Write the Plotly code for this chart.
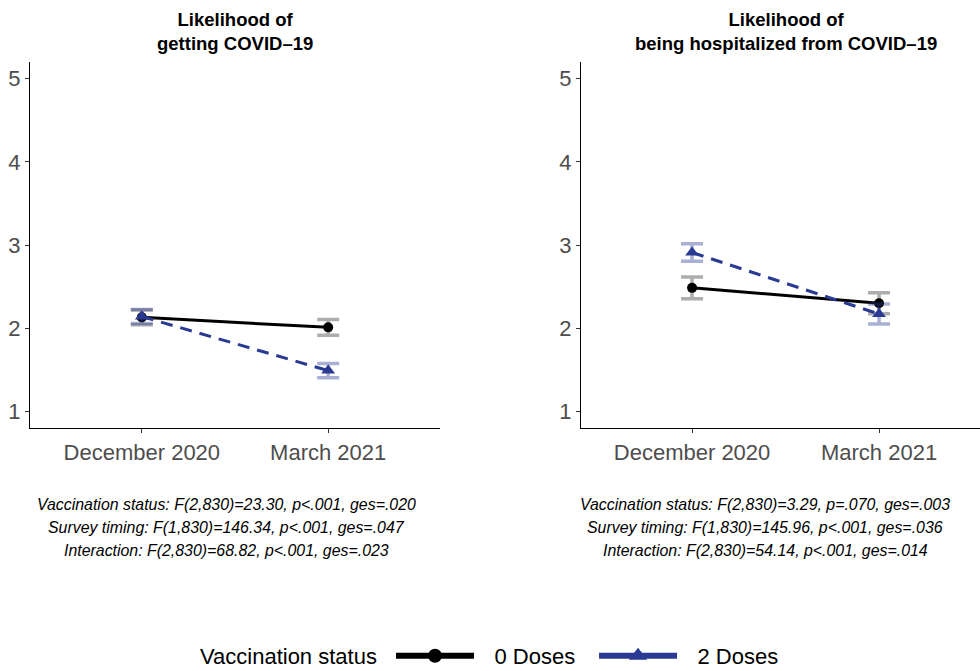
import plotly.graph_objects as go

# ---- data ----
timepoints = ["December 2020", "March 2021"]
panel_titles = ["Likelihood of<br>getting COVID\u201319",
                "Likelihood of<br>being hospitalized from COVID\u201319"]
series_names = ["0 Doses", "2 Doses"]

# panel 1: getting COVID-19
p1_zero = [2.13, 2.01]
p1_zero_err = [0.09, 0.095]
p1_two = [2.14, 1.49]
p1_two_err = [0.085, 0.086]

# panel 2: hospitalized
p2_zero = [2.485, 2.30]
p2_zero_err = [0.13, 0.125]
p2_two = [2.91, 2.17]
p2_two_err = [0.105, 0.12]

y_ticks = [1, 2, 3, 4, 5]

stats_left = [
    "Vaccination status: F(2,830)=23.30, p<.001, ges=.020",
    "Survey timing: F(1,830)=146.34, p<.001, ges=.047",
    "Interaction: F(2,830)=68.82, p<.001, ges=.023",
]
stats_right = [
    "Vaccination status: F(2,830)=3.29, p=.070, ges=.003",
    "Survey timing: F(1,830)=145.96, p<.001, ges=.036",
    "Interaction: F(2,830)=54.14, p<.001, ges=.014",
]

# ---- styling ----
W, H = 980, 671
BLACK = "#000000"
BLUE = "#2A3A93"
ERR_BLACK = "rgba(0,0,0,0.32)"
ERR_BLUE = "rgba(42,58,147,0.40)"
FONT = "Liberation Sans, Arial, Helvetica, sans-serif"
LEGEND_PAD = "\u2002\u2009"

x_num = [1, 2]

fig = go.Figure()

def add_pair(zero, zero_err, two, two_err, xa, ya):
    fig.add_trace(go.Scatter(
        x=x_num, y=zero, mode="lines+markers", name=series_names[0],
        xaxis=xa, yaxis=ya, showlegend=False, legendgroup="z",
        line=dict(color=BLACK, width=3),
        marker=dict(symbol="circle", size=10, color=BLACK),
        error_y=dict(type="data", array=zero_err, color=ERR_BLACK,
                     thickness=3.5, width=11),
    ))
    fig.add_trace(go.Scatter(
        x=x_num, y=two, mode="lines+markers", name=series_names[1],
        xaxis=xa, yaxis=ya, showlegend=False, legendgroup="t",
        line=dict(color=BLUE, width=3, dash="12px,8px"),
        marker=dict(symbol="triangle-up", size=12, color=BLUE),
        error_y=dict(type="data", array=two_err, color=ERR_BLUE,
                     thickness=3.5, width=11),
    ))

add_pair(p1_zero, p1_zero_err, p1_two, p1_two_err, "x", "y")
add_pair(p2_zero, p2_zero_err, p2_two, p2_two_err, "x2", "y2")

# legend-only entries (thicker keys like the reference)
fig.add_trace(go.Scatter(
    x=[None], y=[None], mode="lines+markers", name=LEGEND_PAD + series_names[0],
    legendgroup="z", showlegend=True,
    line=dict(color=BLACK, width=6),
    marker=dict(symbol="circle", size=14, color=BLACK),
))
fig.add_trace(go.Scatter(
    x=[None], y=[None], mode="lines+markers", name=LEGEND_PAD + series_names[1],
    legendgroup="t", showlegend=True,
    line=dict(color=BLUE, width=6),
    marker=dict(symbol="triangle-up", size=16, color=BLUE),
))

# domains (pixel based)
ybot = (H - 428) / H
ytop = (H - 62) / H
x1d = [30 / W, 440 / W]
x2d = [581 / W, 1.0]

axis_common = dict(
    showgrid=False, zeroline=False, showline=True, linecolor="black",
    linewidth=1.2, ticks="outside", ticklen=4, tickcolor="#333333",
    tickwidth=1, tickfont=dict(family=FONT, size=22, color="#4d4d4d"),
)

fig.update_layout(
    width=W, height=H,
    margin=dict(l=0, r=0, t=0, b=0, autoexpand=False),
    paper_bgcolor="white", plot_bgcolor="white",
    font=dict(family=FONT),
    xaxis=dict(domain=x1d, anchor="y", range=[0.4, 2.6],
               tickvals=x_num, ticktext=timepoints, **axis_common),
    yaxis=dict(domain=[ybot, ytop], anchor="x", range=[0.8, 5.2],
               tickvals=y_ticks, **axis_common),
    xaxis2=dict(domain=x2d, anchor="y2", range=[0.406, 2.54],
                tickvals=x_num, ticktext=timepoints, **axis_common),
    yaxis2=dict(domain=[ybot, ytop], anchor="x2", range=[0.8, 5.2],
                tickvals=y_ticks, **axis_common),
    legend=dict(
        orientation="h", x=0.5 + 8 / W, xanchor="center",
        y=(H - 656) / H, yanchor="middle",
        title=dict(text="Vaccination status ", side="left",
                   font=dict(family=FONT, size=22, color="black")),
        font=dict(family=FONT, size=22, color="black"),
        itemwidth=78, entrywidth=110, bgcolor="rgba(0,0,0,0)",
        borderwidth=0,
    ),
)

# panel titles
title_centers = [(30 + 440) / 2 / W, (581 + 991) / 2 / W]
for cx, t in zip(title_centers, panel_titles):
    fig.add_annotation(
        x=cx, y=(H - 32) / H, xref="paper", yref="paper",
        text=f"<b>{t}</b>", showarrow=False, xanchor="center",
        yanchor="middle", font=dict(family=FONT, size=18.5, color="black"),
    )

# stats captions
line_ys = [504, 527, 550]
for cx, lines in [(226 / W, stats_left), (765 / W, stats_right)]:
    for ly, txt in zip(line_ys, lines):
        fig.add_annotation(
            x=cx, y=(H - ly) / H, xref="paper", yref="paper",
            text=f"<i>{txt}</i>", showarrow=False, xanchor="center",
            yanchor="middle", font=dict(family=FONT, size=15.9, color="black"),
        )

fig.write_html("out.html", config={"displayModeBar": False})

# pin the figure to the window origin with no page margin or extra height
with open("out.html", "r", encoding="utf-8") as f:
    html = f.read()
style = ("<style>html,body{margin:0;padding:0;overflow:hidden;"
         "width:980px;height:671px;}"
         ".plotly-graph-div{position:absolute;top:0;left:0;}</style>")
html = html.replace("</head>", style + "</head>", 1)
with open("out.html", "w", encoding="utf-8") as f:
    f.write(html)
